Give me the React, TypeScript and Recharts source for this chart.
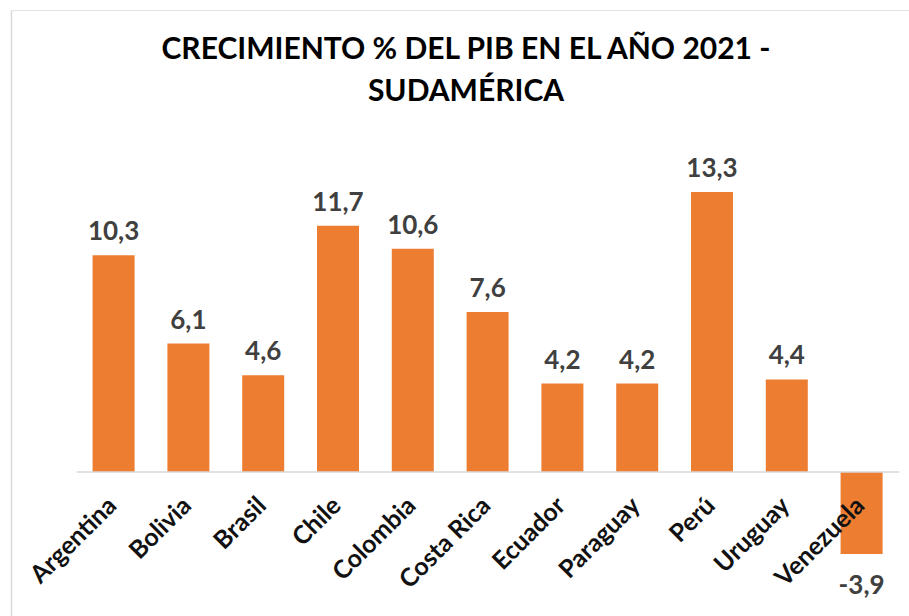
import React from "react";
import { BarChart, Bar, XAxis, YAxis, ReferenceLine, LabelList } from "recharts";

const countries = ["Argentina", "Bolivia", "Brasil", "Chile", "Colombia", "Costa Rica", "Ecuador", "Paraguay", "Perú", "Uruguay", "Venezuela"];
const growth = [10.3, 6.1, 4.6, 11.7, 10.6, 7.6, 4.2, 4.2, 13.3, 4.4, -3.9];
const titleLines = ["CRECIMIENTO % DEL PIB EN EL AÑO 2021 -", "SUDAMÉRICA"];

const data = countries.map((c, i) => ({ country: c, value: growth[i] }));

const FONT = "Lato, 'Open Sans', sans-serif";

const fmt = (v: number) => v.toFixed(1).replace(".", ",");

const ValueLabel = (props: any) => {
  const vb = props.viewBox || props;
  const x = Number(vb.x);
  const y = Number(vb.y);
  const w = Number(vb.width);
  const h = Number(vb.height);
  const v = Number(props.value);
  const top = Math.min(y, y + h);
  const bottom = Math.max(y, y + h);
  const cx = x + w / 2;
  const ty = v >= 0 ? top - 15 : bottom + 40;
  return (
    <text x={cx} y={ty} textAnchor="middle" fill="#404040" fontFamily={FONT} fontWeight={700} fontSize={26}>
      {fmt(v)}
    </text>
  );
};

const CatTick = (props: any) => {
  const { x, y, payload } = props;
  const ax = x + 4;
  const ay = y - 49;
  return (
    <text x={ax} y={ay} transform={`rotate(-45, ${ax}, ${ay})`} textAnchor="end" fill="#111" fontFamily={FONT} fontWeight={700} fontSize={25}>
      {payload.value}
    </text>
  );
};

export default function App() {
  return (
    <div style={{ position: "absolute", left: 0, top: 0, width: 909, height: 616, background: "#fff" }}>
      <BarChart
        width={909}
        height={616}
        data={data}
        margin={{ top: 177.3, right: 9.6, bottom: 29.8, left: 76.6 }}
      >
        <YAxis hide width={0} type="number" domain={[-4, 14]} allowDataOverflow />
        <XAxis
          dataKey="country"
          height={30}
          axisLine={false}
          tickLine={false}
          tickSize={0}
          tickMargin={0}
          interval={0}
          tick={<CatTick />}
        />
        <ReferenceLine y={0} stroke="#d9d9d9" strokeWidth={1.5} />
        <Bar dataKey="value" fill="#ED7D31" barSize={42} isAnimationActive={false}>
          <LabelList dataKey="value" content={<ValueLabel />} />
        </Bar>
      </BarChart>
      <svg width={909} height={616} style={{ position: "absolute", left: 0, top: 0, pointerEvents: "none" }}>
        <line x1={11.5} y1={10.5} x2={909} y2={10.5} stroke="#e3e3e3" strokeWidth={1} />
        <line x1={11.5} y1={10.5} x2={11.5} y2={616} stroke="#d9d9d9" strokeWidth={1.5} />
        <text x={466} y={58.5} textAnchor="middle" fill="#000" fontFamily={FONT} fontWeight={700} fontSize={30}>
          {titleLines[0]}
        </text>
        <text x={466} y={100.5} textAnchor="middle" fill="#000" fontFamily={FONT} fontWeight={700} fontSize={30}>
          {titleLines[1]}
        </text>
      </svg>
    </div>
  );
}
